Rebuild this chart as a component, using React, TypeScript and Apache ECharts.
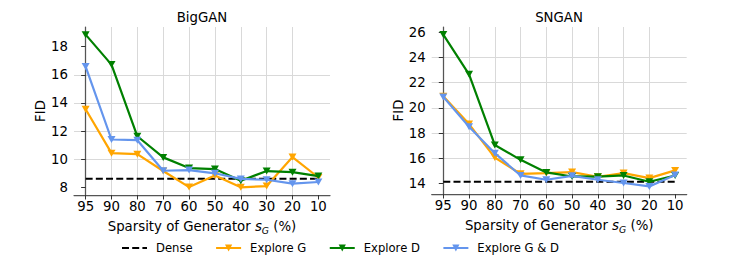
import React, { useEffect, useRef } from "react";
import * as echarts from "echarts";

const sparsity = ["95", "90", "80", "70", "60", "50", "40", "30", "20", "10"];
const xIndex = [0, 1, 2, 3, 4, 5, 6, 7, 8, 9];

// BigGAN
const bigDense = 8.61;
const bigExploreG = [13.55, 10.43, 10.36, 9.16, 8.02, 8.85, 8.0, 8.09, 10.15, 8.7];
const bigExploreD = [18.85, 16.72, 11.63, 10.13, 9.37, 9.3, 8.47, 9.16, 9.08, 8.8];
const bigExploreGD = [16.58, 11.4, 11.35, 9.18, 9.23, 9.0, 8.6, 8.54, 8.26, 8.38];
const bigTicks = [8, 10, 12, 14, 16, 18];

// SNGAN
const snDense = 14.14;
const snExploreG = [20.92, 18.71, 16.05, 14.76, 14.82, 14.9, 14.53, 14.82, 14.42, 15.03];
const snExploreD = [25.82, 22.66, 17.05, 15.87, 14.87, 14.55, 14.53, 14.63, 14.13, 14.63];
const snExploreGD = [20.87, 18.5, 16.4, 14.63, 14.29, 14.6, 14.29, 14.03, 13.76, 14.66];
const snTicks = [14, 16, 18, 20, 22, 24, 26];

const C_G = "#FFA500";
const C_D = "#008000";
const C_GD = "#6495ED";
const FONT = "DejaVu Sans";
const FS = 13.3;
const TRI = "path://M0,0 L10,0 L5,9 Z";

function pairs(vals: number[]) {
  return vals.map((v, i) => [xIndex[i], v]);
}

function ext(arrs: number[][], dense: number) {
  const all = ([] as number[]).concat(...arrs, [dense]);
  const mn = Math.min(...all);
  const mx = Math.max(...all);
  const m = (mx - mn) * 0.05;
  return [mn - m, mx + m];
}

export default function App() {
  const ref = useRef<HTMLDivElement>(null);
  useEffect(() => {
    if (!ref.current) return;
    const chart = echarts.init(ref.current, undefined, { renderer: "svg" });
    const bigExt = ext([bigExploreG, bigExploreD, bigExploreGD], bigDense);
    const snExt = ext([snExploreG, snExploreD, snExploreGD], snDense);

    const axisLine = { show: true, lineStyle: { color: "#555", width: 1.25 } };
    const axisTick = (vals: number[]) => ({
      show: true,
      length: 4.5,
      customValues: vals,
      lineStyle: { color: "#333", width: 1 },
    });
    const splitLine = {
      show: true,
      showMinLine: false,
      showMaxLine: false,
      lineStyle: { color: "#d9d9d9", width: 1 },
    };
    const xName = "Sparsity of Generator {s|s}{sub|G} (%)";
    const xAxis = (gi: number) => ({
      type: "value",
      gridIndex: gi,
      min: -0.45,
      max: 9.45,
      splitNumber: 10,
      axisLine,
      axisTick: axisTick(xIndex),
      splitLine,
      axisLabel: {
        customValues: xIndex,
        margin: 5,
        fontSize: FS,
        fontFamily: FONT,
        color: "#000",
        formatter: (v: number) => sparsity[Math.round(v)] ?? "",
      },
      name: xName,
      nameLocation: "middle",
      nameGap: 14,
      nameTextStyle: {
        fontSize: FS,
        fontFamily: FONT,
        color: "#000",
        lineHeight: 17,
        rich: {
          s: { fontSize: FS, fontFamily: FONT, fontStyle: "italic", color: "#000", lineHeight: 17 },
          sub: {
            fontSize: 9.3,
            fontFamily: FONT,
            fontStyle: "italic",
            color: "#000",
            verticalAlign: "bottom",
            lineHeight: 11,
          },
        },
      },
    });
    const yAxis = (gi: number, e: number[], ticks: number[], split: number) => ({
      type: "value",
      gridIndex: gi,
      min: e[0],
      max: e[1],
      splitNumber: split,
      axisLine,
      axisTick: axisTick(ticks),
      splitLine,
      axisLabel: {
        customValues: ticks,
        margin: 6,
        fontSize: FS,
        fontFamily: FONT,
        color: "#000",
        formatter: (v: number) => String(v),
      },
      name: "FID",
      nameLocation: "middle",
      nameGap: 25,
      nameTextStyle: { fontSize: FS, fontFamily: FONT, color: "#000" },
    });

    const lineSeries = (name: string, gi: number, vals: number[], color: string, z: number) => ({
      name,
      type: "line",
      xAxisIndex: gi,
      yAxisIndex: gi,
      data: pairs(vals),
      symbol: TRI,
      symbolSize: [8, 7],
      showAllSymbol: true,
      lineStyle: { color, width: 2.2 },
      itemStyle: { color },
      z,
    });
    const denseSeries = (gi: number, v: number) => ({
      name: "Dense",
      type: "line",
      xAxisIndex: gi,
      yAxisIndex: gi,
      data: pairs(xIndex.map(() => v)),
      symbol: "none",
      lineStyle: { color: "#000", width: 2, type: [7, 3.2] },
      itemStyle: { color: "#000" },
      z: 2,
    });

    chart.setOption({
      animation: false,
      backgroundColor: "#fff",
      textStyle: { fontFamily: FONT },
      title: [
        {
          text: "BigGAN",
          left: 202,
          top: 11,
          textAlign: "center",
          padding: 0,
          textStyle: { fontSize: FS, fontWeight: "normal", fontFamily: FONT, color: "#000" },
        },
        {
          text: "SNGAN",
          left: 559,
          top: 11,
          textAlign: "center",
          padding: 0,
          textStyle: { fontSize: FS, fontWeight: "normal", fontFamily: FONT, color: "#000" },
        },
      ],
      legend: {
        data: [
          { name: "Dense", itemStyle: { opacity: 0 } },
          "Explore G",
          "Explore D",
          "Explore G & D",
        ],
        left: 121,
        top: 242,
        padding: 0,
        itemWidth: 25,
        itemHeight: 9,
        itemGap: 22.5,
        textStyle: { fontSize: 11.6, fontFamily: FONT, color: "#000", padding: [0, 0, 0, 4] },
      },
      grid: [
        { left: 74, top: 27, width: 256, height: 168 },
        { left: 431.7, top: 27, width: 255, height: 167 },
      ],
      xAxis: [xAxis(0), xAxis(1)],
      yAxis: [yAxis(0, bigExt, bigTicks, 5), yAxis(1, snExt, snTicks, 6)],
      series: [
        denseSeries(0, bigDense),
        lineSeries("Explore G", 0, bigExploreG, C_G, 3),
        lineSeries("Explore D", 0, bigExploreD, C_D, 4),
        lineSeries("Explore G & D", 0, bigExploreGD, C_GD, 5),
        denseSeries(1, snDense),
        lineSeries("Explore G", 1, snExploreG, C_G, 3),
        lineSeries("Explore D", 1, snExploreD, C_D, 4),
        lineSeries("Explore G & D", 1, snExploreGD, C_GD, 5),
      ],
    });
    return () => chart.dispose();
  }, []);
  return (
    <div
      ref={ref}
      style={{ position: "fixed", left: 0, top: 0, width: 747, height: 267, background: "#fff" }}
    />
  );
}
